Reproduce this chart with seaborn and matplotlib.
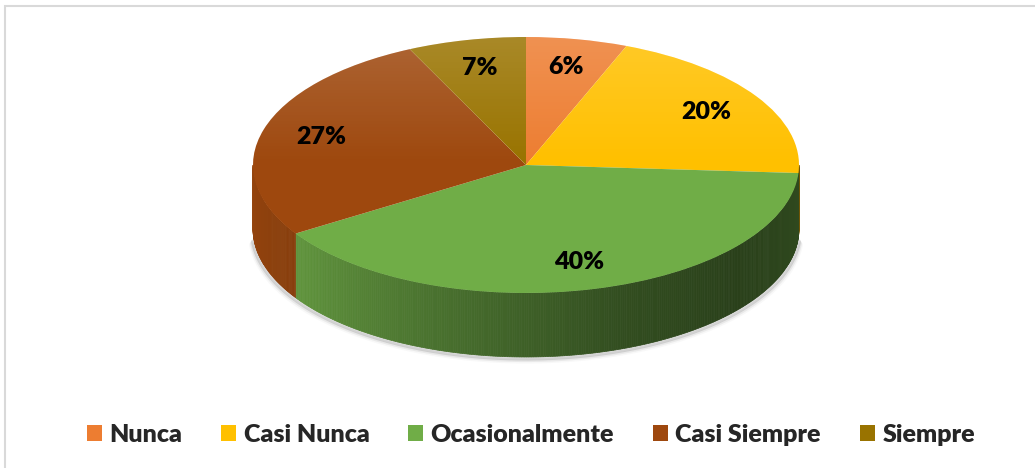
"""3D-style pie: frecuencia de respuestas (Nunca ... Siempre)."""
import matplotlib.pyplot as plt
import numpy as np
import seaborn as sns
from matplotlib.colors import to_rgb
from matplotlib.patches import Circle, Polygon, Rectangle

CATEGORIES = ["Nunca", "Casi Nunca", "Ocasionalmente", "Casi Siempre", "Siempre"]
PERCENTS = [6, 20, 40, 27, 7]
COLOURS = ["#ED7D31", "#FFC000", "#70AD47", "#9E480E", "#997300"]

sns.set_theme(style="white")
plt.rcParams["font.family"] = ["Lato", "DejaVu Sans"]

W, H = 1035, 468
CX, CY = 526, 165          # centre of the top ellipse (px, from top)
RX, RY = 273, 128          # ellipse radii (px)
DEPTH = 64 / RY            # wall height in data units

fig = plt.figure(figsize=(W / 100, H / 100), dpi=100)
ax = fig.add_axes([0, 0, 1, 1])

wedges, _, autotexts = ax.pie(
    PERCENTS, colors=COLOURS, startangle=90, counterclock=False,
    autopct="%1.0f%%", pctdistance=0.78,
    textprops={"fontsize": 18, "fontweight": "heavy", "color": "black"},
    wedgeprops={"linewidth": 0, "zorder": 3},
)
for t in autotexts:
    t.set_zorder(6)
ax.set_aspect("auto")
ax.set_xlim(-CX / RX, (W - CX) / RX)
ax.set_ylim(-(H - CY) / RY, CY / RY)
ax.axis("off")

# light sheen on the top face (lighter towards the back, gone by the middle)
grad = np.clip(np.linspace(0.16, -0.16, 256), 0, None)[:, None]
sheen = np.zeros((256, 2, 4))
sheen[..., :3] = 1.0
sheen[..., 3] = grad
im = ax.imshow(sheen, extent=(-1, 1, -1, 1), origin="upper", aspect="auto",
               zorder=4, interpolation="bilinear")
clip = Circle((0, 0), 1, transform=ax.transData, visible=False)
ax.add_patch(clip)
im.set_clip_path(clip)

# side wall: visible front half of the cylinder, shaded by angle
shade_pts = [(180, 0.95), (215, 0.85), (250, 0.66), (290, 0.45), (320, 0.37), (360, 0.43)]
sa, sv = zip(*shade_pts)
bounds = 90 - 360 * np.concatenate([[0], np.cumsum(PERCENTS)]) / 100
for i, col in enumerate(COLOURS):
    hi, lo = bounds[i] % 360, bounds[i + 1] % 360
    if hi <= lo:
        hi += 360
    rgb = np.array(to_rgb(col))
    for off in (0, -360):
        a0, a1 = max(lo + off, 180), min(hi + off, 360)
        if a1 <= a0:
            continue
        steps = np.linspace(a0, a1, max(2, int((a1 - a0) * 2) + 1))
        for b0, b1 in zip(steps[:-1], steps[1:]):
            r0, r1 = np.radians([b0, b1])
            f = np.interp((b0 + b1) / 2, sa, sv)
            ax.add_patch(Polygon(
                [(np.cos(r0), np.sin(r0)), (np.cos(r1), np.sin(r1)),
                 (np.cos(r1), np.sin(r1) - DEPTH), (np.cos(r0), np.sin(r0) - DEPTH)],
                closed=True, facecolor=rgb * f, edgecolor=rgb * f, linewidth=0.5, zorder=2,
            ))

# soft shadow beneath the wall
th = np.radians(np.linspace(185, 355, 200))
for k, a in ((3, 0.25), (6, 0.12), (9, 0.05)):
    ax.plot(np.cos(th) * (1 + k / RX / 3), np.sin(th) - DEPTH - k / RY / 2,
            color="grey", alpha=a, linewidth=3, zorder=1, solid_capstyle="round")

# thin chart-area border
fig.patches.append(Rectangle((5 / W, -0.1), 1.2, 1.1 - 6 / H, transform=fig.transFigure,
                             fill=False, edgecolor="#D9D9D9", linewidth=1.5))

fig.legend(wedges, CATEGORIES, loc="lower center", bbox_to_anchor=(0.513, 0.0),
           ncol=5, frameon=False, handlelength=0.6, handleheight=0.6,
           handletextpad=0.3, columnspacing=1.55,
           prop={"size": 18, "weight": "heavy"})

fig.savefig("out.png", dpi=100)
